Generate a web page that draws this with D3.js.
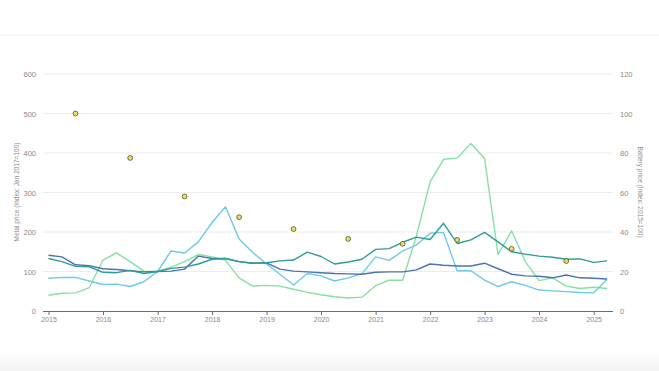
<!DOCTYPE html>
<html>
<head>
<meta charset="utf-8">
<script src="https://cdn.jsdelivr.net/npm/d3@7"></script>
<style>
  body { margin: 0; background: #fff; font-family: "Helvetica Neue", Arial, "Liberation Sans", sans-serif; }
  svg text { fill: #8a8a8a; }
</style>
</head>
<body>
<svg id="chart" width="659" height="371"></svg>
<script>
// quarterly values, Q1 2015 .. Q2 2025 (metal price, index Jan 2017 = 100)
var metalBlue  = [141,137,117,115, 107,105,102,99, 100,101,106,139, 133,133,125,121, 122,106,101,99, 97,95,94,93, 98,99,99,104, 119,116,114,114, 121,107,93,89, 88,84,91,84, 83,81];
var metalTeal  = [133,125,113,112, 98,97,103,95, 100,108,111,119, 131,133,125,121, 122,127,129,149, 138,119,124,131, 156,158,174,187, 181,222,171,180, 199,175,150,144, 139,136,131,132, 123,127];
var metalCyan  = [83,85,85,76, 67,68,62,74, 100,152,147,175, 224,264,182,148, 119,93,66,95, 89,76,84,94, 137,128,152,167, 197,199,102,102, 78,62,74,65, 53,51,49,47, 46,80];
var metalGreen = [40,45,46,59, 129,147,125,101, 100,111,125,143, 137,128,84,63, 65,63,55,47, 41,36,33,35, 64,78,78,190, 327,384,387,424, 386,143,203,125, 77,84,63,57, 60,57];
// yearly battery pack price (index 2015 = 100), plotted mid-year
var batteryYears = [2015,2016,2017,2018,2019,2020,2021,2022,2023,2024];
var batteryPrice = [100,77.5,58,47.5,41.5,36.5,34,36,31.5,25.3];

var leftTicks = [0,100,200,300,400,500,600];
var rightTicks = [0,20,40,60,80,100,120];
var yearTicks = d3.range(2015, 2026);

var svg = d3.select("#chart");

// faint separator at the top and shadow at the bottom
svg.append("line").attr("x1", 0).attr("x2", 659).attr("y1", 35).attr("y2", 35)
  .attr("stroke", "#f0f0f0").attr("stroke-width", 1);
var grad = svg.append("defs").append("linearGradient").attr("id", "shade")
  .attr("x1", 0).attr("x2", 0).attr("y1", 0).attr("y2", 1);
grad.append("stop").attr("offset", "0%").attr("stop-color", "#fff");
grad.append("stop").attr("offset", "100%").attr("stop-color", "#f3f3f3");
svg.append("rect").attr("x", 0).attr("y", 352).attr("width", 659).attr("height", 19).attr("fill", "url(#shade)");

var x = d3.scaleTime()
  .domain([new Date(2015, 0, 1), new Date(2025, 0, 1)])
  .range([48.5, 593.7]);
var yL = d3.scaleLinear().domain([0, 600]).range([311, 74]);
var yR = d3.scaleLinear().domain([0, 120]).range([311, 74]);

var qDate = function(i) { return new Date(2015 + Math.floor(i / 4), (i % 4) * 3, 1); };

// grid
svg.append("g").selectAll("line").data(leftTicks.slice(1)).enter().append("line")
  .attr("x1", 43).attr("x2", 613)
  .attr("y1", d => yL(d)).attr("y2", d => yL(d))
  .attr("stroke", "#ececec").attr("stroke-width", 1);

// left axis labels
svg.append("g").selectAll("text").data(leftTicks).enter().append("text")
  .attr("x", 36).attr("y", d => yL(d) + 3)
  .attr("text-anchor", "end").attr("font-size", 7.5)
  .text(d => d);

// right axis labels
svg.append("g").selectAll("text").data(rightTicks).enter().append("text")
  .attr("x", 620).attr("y", d => yR(d) + 3)
  .attr("text-anchor", "start").attr("font-size", 7.5)
  .text(d => d);

// axis titles
svg.append("text")
  .attr("transform", "translate(19,192) rotate(-90)")
  .attr("text-anchor", "middle").attr("font-size", 6.5)
  .text("Metal price (Index: Jan 2017=100)");
svg.append("text")
  .attr("transform", "translate(638,192) rotate(90)")
  .attr("text-anchor", "middle").attr("font-size", 6.5)
  .text("Battery price (Index: 2015=100)");

// x axis
var xAxis = svg.append("g").attr("transform", "translate(0,311)")
  .call(d3.axisBottom(x)
    .tickValues(yearTicks.map(y => new Date(y, 0, 1)))
    .tickFormat(d3.timeFormat("%Y"))
    .tickSize(4).tickSizeOuter(0));
xAxis.select(".domain").attr("d", "M43,0.5H613").attr("stroke", "#6b6b6b");
xAxis.selectAll(".tick line").attr("stroke", "#6b6b6b");
xAxis.selectAll(".tick text").attr("font-size", 7).attr("fill", "#555").attr("dy", "0.6em")
  .attr("font-family", "\"Helvetica Neue\", Arial, \"Liberation Sans\", sans-serif");

var line = d3.line()
  .x((d, i) => x(qDate(i)))
  .y(d => yL(d));

var series = [
  { data: metalGreen, color: "#86e0a1" },
  { data: metalCyan,  color: "#6ccbe8" },
  { data: metalBlue,  color: "#4b74b1" },
  { data: metalTeal,  color: "#2c9d98" }
];

svg.append("g").selectAll("path").data(series).enter().append("path")
  .attr("d", d => line(d.data))
  .attr("fill", "none")
  .attr("stroke", d => d.color)
  .attr("stroke-width", 1.4)
  .attr("stroke-linejoin", "round");

// battery price dots
svg.append("g").selectAll("circle").data(batteryPrice).enter().append("circle")
  .attr("cx", (d, i) => x(new Date(batteryYears[i], 6, 1)))
  .attr("cy", d => yR(d))
  .attr("r", 2.4)
  .attr("fill", "#e9e35c")
  .attr("stroke", "#4f4f2a")
  .attr("stroke-width", 0.8);
</script>
</body>
</html>
